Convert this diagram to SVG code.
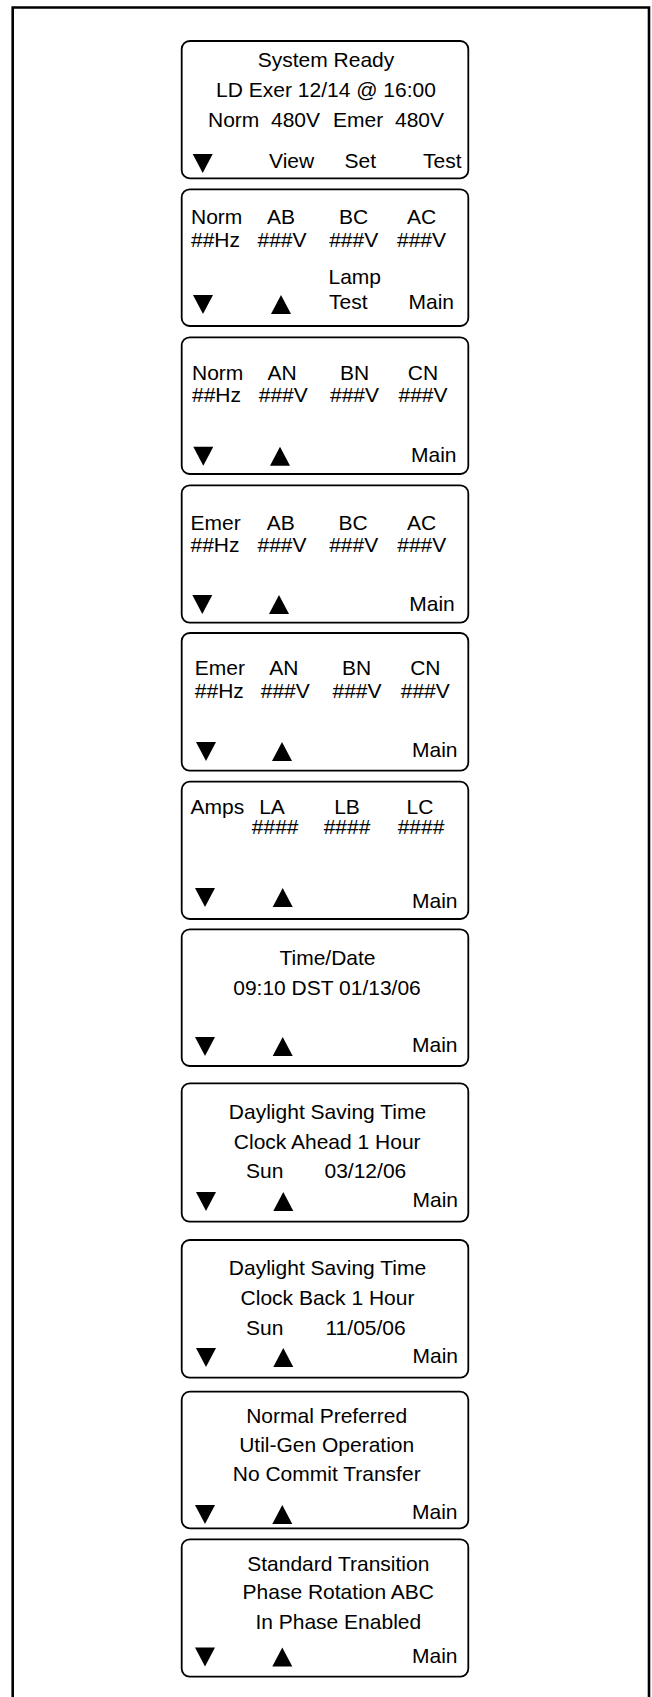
<svg xmlns="http://www.w3.org/2000/svg" width="652" height="1697" viewBox="0 0 652 1697">
<style>
text{font-family:"Liberation Sans",Arial,Helvetica,sans-serif;font-size:21px;fill:#000}
.m{text-anchor:middle}
.e{text-anchor:end}
.box{fill:#fff;stroke:#000;stroke-width:1.8}
.frame{fill:none;stroke:#000;stroke-width:2.6}
.tri{fill:#000}
</style>
<defs>
<polygon id="dn" points="0,0 20,0 10,19"/>
<polygon id="up" points="10,0 20,19 0,19"/>
</defs>
<rect width="652" height="1697" fill="#fff"/>
<path class="frame" d="M12.7,1700 V7.5 H649 V1700"/>
<g id="connectors"/>

<g id="screen1">
<rect class="box" x="181.7" y="41" width="286.6" height="137.3" rx="8"/>
<text class="m" x="326" y="66.7">System Ready</text>
<text class="m" x="326" y="96.7">LD Exer 12/14 @ 16:00</text>
<text x="208" y="126.7">Norm</text>
<text x="271" y="126.7">480V</text>
<text x="333" y="126.7">Emer</text>
<text x="395" y="126.7">480V</text>
<use href="#dn" x="192.7" y="154"/>
<text x="269" y="168">View</text>
<text x="344.5" y="168">Set</text>
<text class="e" x="461.5" y="168">Test</text>
</g>

<g id="screen2">
<rect class="box" x="181.7" y="189.3" width="286.6" height="136.7" rx="8"/>
<text x="191" y="224.3">Norm</text>
<text class="m" x="281" y="224.3">AB</text>
<text class="m" x="353.7" y="224.3">BC</text>
<text class="m" x="421.5" y="224.3">AC</text>
<text x="191" y="246.7">##Hz</text>
<text class="m" x="282" y="246.7">###V</text>
<text class="m" x="353.7" y="246.7">###V</text>
<text class="m" x="421.5" y="246.7">###V</text>
<text x="328.5" y="284">Lamp</text>
<text x="329" y="309.3">Test</text>
<use href="#dn" x="193" y="295"/>
<use href="#up" x="271" y="295"/>
<text class="e" x="454" y="309.3">Main</text>
</g>

<g id="screen3">
<rect class="box" x="181.7" y="337.3" width="286.6" height="136.7" rx="8"/>
<text x="192" y="380">Norm</text>
<text class="m" x="282.2" y="380">AN</text>
<text class="m" x="354.5" y="380">BN</text>
<text class="m" x="423" y="380">CN</text>
<text x="192" y="402.3">##Hz</text>
<text class="m" x="283.3" y="402.3">###V</text>
<text class="m" x="354.5" y="402.3">###V</text>
<text class="m" x="423" y="402.3">###V</text>
<use href="#dn" x="193.3" y="446.7"/>
<use href="#up" x="270" y="446.7"/>
<text class="e" x="456.5" y="461.7">Main</text>
</g>

<g id="screen4">
<rect class="box" x="181.7" y="485.3" width="286.6" height="137.4" rx="8"/>
<text x="190.5" y="530">Emer</text>
<text class="m" x="280.8" y="530">AB</text>
<text class="m" x="353" y="530">BC</text>
<text class="m" x="421.7" y="530">AC</text>
<text x="190.5" y="552.3">##Hz</text>
<text class="m" x="282" y="552.3">###V</text>
<text class="m" x="353.7" y="552.3">###V</text>
<text class="m" x="421.8" y="552.3">###V</text>
<use href="#dn" x="192.3" y="595"/>
<use href="#up" x="269" y="595"/>
<text class="e" x="454.8" y="610.7">Main</text>
</g>

<g id="screen5">
<rect class="box" x="181.7" y="633" width="286.6" height="137.7" rx="8"/>
<text x="194.8" y="675">Emer</text>
<text class="m" x="283.8" y="675">AN</text>
<text class="m" x="356.7" y="675">BN</text>
<text class="m" x="425.3" y="675">CN</text>
<text x="194.8" y="698.3">##Hz</text>
<text class="m" x="285.3" y="698.3">###V</text>
<text class="m" x="357" y="698.3">###V</text>
<text class="m" x="425.3" y="698.3">###V</text>
<use href="#dn" x="196" y="742"/>
<use href="#up" x="272" y="742"/>
<text class="e" x="457.5" y="756.7">Main</text>
</g>

<g id="screen6">
<rect class="box" x="181.7" y="781.7" width="286.6" height="137.3" rx="8"/>
<text x="190.5" y="814">Amps</text>
<text class="m" x="272" y="814">LA</text>
<text class="m" x="347" y="814">LB</text>
<text class="m" x="420" y="814">LC</text>
<text class="m" x="275.2" y="834">####</text>
<text class="m" x="347" y="834">####</text>
<text class="m" x="421" y="834">####</text>
<use href="#dn" x="195" y="888"/>
<use href="#up" x="272.7" y="888"/>
<text class="e" x="457.5" y="908.3">Main</text>
</g>

<g id="screen7">
<rect class="box" x="181.7" y="929.3" width="286.6" height="136.7" rx="8"/>
<text class="m" x="327.5" y="965">Time/Date</text>
<text class="m" x="327" y="995">09:10 DST 01/13/06</text>
<use href="#dn" x="195" y="1037"/>
<use href="#up" x="272.7" y="1037"/>
<text class="e" x="457.5" y="1051.7">Main</text>
</g>

<g id="screen8">
<rect class="box" x="181.7" y="1083.3" width="286.6" height="138.4" rx="8"/>
<text class="m" x="327.5" y="1119.3">Daylight Saving Time</text>
<text class="m" x="327.2" y="1149.3">Clock Ahead 1 Hour</text>
<text x="246" y="1178.3">Sun</text>
<text x="324.5" y="1178.3">03/12/06</text>
<use href="#dn" x="196" y="1192"/>
<use href="#up" x="273.3" y="1192"/>
<text class="e" x="458" y="1206.7">Main</text>
</g>

<g id="screen9">
<rect class="box" x="181.7" y="1240" width="286.6" height="137.7" rx="8"/>
<text class="m" x="327.5" y="1275.3">Daylight Saving Time</text>
<text class="m" x="327.5" y="1305">Clock Back 1 Hour</text>
<text x="246" y="1335">Sun</text>
<text x="325.5" y="1335">11/05/06</text>
<use href="#dn" x="196" y="1348"/>
<use href="#up" x="273.3" y="1348"/>
<text class="e" x="458" y="1363.3">Main</text>
</g>

<g id="screen10">
<rect class="box" x="181.7" y="1391.7" width="286.6" height="136.6" rx="8"/>
<text class="m" x="326.7" y="1422.7">Normal Preferred</text>
<text class="m" x="326.7" y="1451.7">Util-Gen Operation</text>
<text class="m" x="326.7" y="1480.7">No Commit Transfer</text>
<use href="#dn" x="195" y="1505"/>
<use href="#up" x="272.3" y="1505"/>
<text class="e" x="457.5" y="1519.3">Main</text>
</g>

<g id="screen11">
<rect class="box" x="181.7" y="1539.3" width="286.6" height="137.4" rx="8"/>
<text class="m" x="338.3" y="1570.7">Standard Transition</text>
<text class="m" x="338.3" y="1599.3">Phase Rotation ABC</text>
<text class="m" x="338.3" y="1629.3">In Phase Enabled</text>
<use href="#dn" x="195" y="1647.5"/>
<use href="#up" x="272.3" y="1647.5"/>
<text class="e" x="457.5" y="1663.3">Main</text>
</g>
</svg>
